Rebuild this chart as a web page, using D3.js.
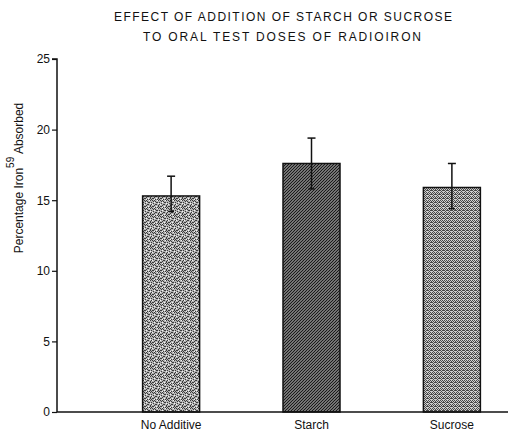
<!DOCTYPE html>
<html><head><meta charset="utf-8">
<script src="https://cdn.jsdelivr.net/npm/d3@7"></script>
<style>html,body{margin:0;padding:0;background:#fff;}svg{display:block;}</style>
</head><body>
<script>
const categories = ["No Additive", "Starch", "Sucrose"];
const means = [15.3, 17.6, 15.9];
const errLow = [14.2, 15.8, 14.4];
const errHigh = [16.7, 19.4, 17.6];
const yTicks = [0, 5, 10, 15, 20, 25];
const titleLines = ["EFFECT OF ADDITION OF STARCH OR SUCROSE", "TO ORAL TEST DOSES OF RADIOIRON"];
const patterns = ["stipple", "hatch", "cross"];

const W = 508, H = 433;
const FONT = "Liberation Sans, Arial, sans-serif";
const svg = d3.select("body").append("svg").attr("width", W).attr("height", H);
const defs = svg.append("defs");

// stipple pattern (fixed dot layout)
const st = defs.append("pattern").attr("id", "stipple").attr("patternUnits", "userSpaceOnUse")
  .attr("width", 8).attr("height", 8);
st.append("rect").attr("width", 8).attr("height", 8).attr("fill", "#b4b4b4");
[[0,0],[3,1],[6,0],[1,3],[5,2],[7,4],[2,5],[4,4],[0,6],[6,6],[3,7],[5,7],[1,1],[7,2],[2,0],[4,2],[6,5],[1,6],[3,4],[7,7]].forEach(([x,y]) =>
  st.append("rect").attr("x", x).attr("y", y).attr("width", 1).attr("height", 1).attr("fill", "#3a3a3a"));
[[2,2],[4,6],[6,3],[0,4],[5,0],[2,7]].forEach(([x,y]) =>
  st.append("rect").attr("x", x).attr("y", y).attr("width", 1).attr("height", 1).attr("fill", "#f4f4f4"));

// diagonal hatch
const ht = defs.append("pattern").attr("id", "hatch").attr("patternUnits", "userSpaceOnUse")
  .attr("width", 3).attr("height", 3);
ht.append("rect").attr("width", 3).attr("height", 3).attr("fill", "#bdbdbd");
ht.append("path").attr("d", "M0,3 L3,0 M-1,1 L1,-1 M2,4 L4,2").attr("stroke", "#1a1a1a").attr("stroke-width", 1.3);

// cross dotted
const cr = defs.append("pattern").attr("id", "cross").attr("patternUnits", "userSpaceOnUse")
  .attr("width", 4).attr("height", 4);
cr.append("rect").attr("width", 4).attr("height", 4).attr("fill", "#cfcfcf");
[[0,0],[2,0],[1,1],[3,2],[0,2],[2,2],[1,3],[3,1]].forEach(([x,y]) =>
  cr.append("rect").attr("x", x).attr("y", y).attr("width", 1).attr("height", 1).attr("fill", "#4a4a4a"));

const y = d3.scaleLinear().domain([0, 25]).range([412, 59]);
const x = d3.scaleBand().domain(categories).range([100.5, 522.5]).paddingInner(0.594).paddingOuter(0.3);

// title
svg.append("g").selectAll("text").data(titleLines).join("text")
  .attr("x", (d,i) => i === 0 ? 283 : 282)
  .attr("y", (d,i) => 21 + i * 20)
  .attr("text-anchor", "middle")
  .attr("font-family", FONT)
  .attr("font-size", 12).attr("fill", "#111")
  .attr("textLength", (d,i) => i === 0 ? 338 : 278)
  .attr("lengthAdjust", "spacing")
  .text(d => d);

// bars
const g = svg.append("g");
g.selectAll("rect.bar").data(categories).join("rect").attr("class", "bar")
  .attr("x", d => x(d)).attr("width", x.bandwidth())
  .attr("y", (d,i) => y(means[i])).attr("height", (d,i) => y(0) - y(means[i]))
  .attr("fill", (d,i) => `url(#${patterns[i]})`)
  .attr("stroke", "#111").attr("stroke-width", 1.5);

// error bars
const eb = g.selectAll("g.err").data(categories).join("g").attr("class", "err")
  .attr("stroke", "#111").attr("stroke-width", 1.5);
eb.append("line").attr("x1", d => x(d) + x.bandwidth()/2).attr("x2", d => x(d) + x.bandwidth()/2)
  .attr("y1", (d,i) => y(errLow[i])).attr("y2", (d,i) => y(errHigh[i]));
eb.append("line").attr("x1", d => x(d) + x.bandwidth()/2 - 4).attr("x2", d => x(d) + x.bandwidth()/2 + 4)
  .attr("y1", (d,i) => y(errHigh[i])).attr("y2", (d,i) => y(errHigh[i]));
eb.append("line").attr("x1", d => x(d) + x.bandwidth()/2 - 3).attr("x2", d => x(d) + x.bandwidth()/2 + 3)
  .attr("y1", (d,i) => y(errLow[i])).attr("y2", (d,i) => y(errLow[i]));

// y axis
const ya = svg.append("g").attr("transform", "translate(57,0)")
  .call(d3.axisLeft(y).tickValues(yTicks).tickSize(5).tickPadding(2).tickFormat(d3.format("d")));
ya.select(".domain").attr("stroke", "#111").attr("stroke-width", 1.5).attr("d", "M-5,59H0V412");
ya.selectAll(".tick line").attr("stroke", "#111").attr("stroke-width", 1.2);
ya.selectAll(".tick text").attr("font-family", FONT).attr("font-size", 12).attr("fill", "#111");

// x axis
const xa = svg.append("g").attr("transform", "translate(0,412)")
  .call(d3.axisBottom(x).tickSize(0).tickPadding(8));
xa.select(".domain").attr("stroke", "#111").attr("stroke-width", 1.5).attr("d", "M57,0H508");
xa.selectAll(".tick text").attr("font-family", FONT).attr("font-size", 12).attr("fill", "#111");

// y label
const yl = svg.append("text").attr("transform", "translate(23,178) rotate(-90)")
  .attr("text-anchor", "middle")
  .attr("font-family", FONT).attr("font-size", 12).attr("fill", "#111");
yl.append("tspan").text("Percentage Iron");
yl.append("tspan").attr("dy", -9).attr("font-size", 10).text("59");
yl.append("tspan").attr("dy", 9).text(" Absorbed");
</script>
</body></html>
